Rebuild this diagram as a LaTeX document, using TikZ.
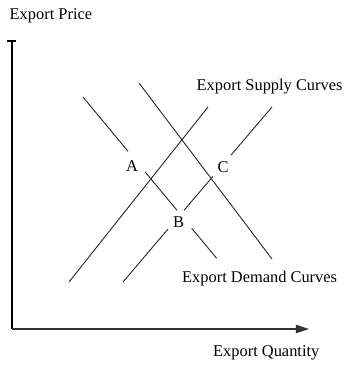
\documentclass[tikz,border=0pt]{standalone}
\usepackage{fontspec}
\setmainfont{Liberation Serif}
\usetikzlibrary{arrows.meta}
\begin{document}
\begin{tikzpicture}[x=1pt,y=-1pt,
  curve/.style={line width=0.9pt,draw=black!85},
  axis/.style={line width=1.8pt},
  lbl/.style={font=\fontsize{16.4}{19}\selectfont,inner sep=0pt,anchor=base west},
  pt/.style={font=\fontsize{16.4}{19}\selectfont,inner sep=0pt}]
\useasboundingbox (0,0) rectangle (345,368);
% axes
\coordinate (O) at (12,329);
\coordinate (Ytop) at (12,40);
\coordinate (Xend) at (309,329);
\draw[axis,{Bar[width=9pt,line width=1.6pt]}-] (Ytop) -- (O);
\draw[axis,draw=black!80,-{Triangle[length=13pt,width=8pt]}] (O) -- (Xend);
% demand curve 1 (with gaps for labels)
\coordinate (d1a) at (83,97);   \coordinate (d1b) at (128,151.3);
\coordinate (d1c) at (145,171.8); \coordinate (d1d) at (177,210.3);
\coordinate (d1e) at (191.7,228.3); \coordinate (d1f) at (216.7,258.3);
\draw[curve] (d1a) -- (d1b);
\draw[curve] (d1c) -- (d1d);
\draw[curve] (d1e) -- (d1f);
% demand curve 2
\coordinate (d2a) at (139,83); \coordinate (d2b) at (272,259);
\draw[curve] (d2a) -- (d2b);
% supply curve 1
\coordinate (s1a) at (69,282); \coordinate (s1b) at (208,107);
\draw[curve] (s1a) -- (s1b);
% supply curve 2 (with gaps)
\coordinate (s2a) at (123,282); \coordinate (s2b) at (168,229);
\coordinate (s2c) at (184,210.3); \coordinate (s2d) at (213,176.3);
\coordinate (s2e) at (231,155.1); \coordinate (s2f) at (272,107);
\draw[curve] (s2a) -- (s2b);
\draw[curve] (s2c) -- (s2d);
\draw[curve] (s2e) -- (s2f);
% point labels
\node[pt] (A) at (132,166) {A};
\node[pt] (B) at (178.5,222.5) {B};
\node[pt] (C) at (223,167.5) {C};
% texts
\node[lbl] (price) at (9.5,19.3) {Export Price};
\node[lbl] (supply) at (196.5,90) {Export Supply Curves};
\node[lbl] (demand) at (182,282.7) {Export Demand Curves};
\node[lbl] (qty) at (213,356.7) {Export Quantity};
\end{tikzpicture}
\end{document}
